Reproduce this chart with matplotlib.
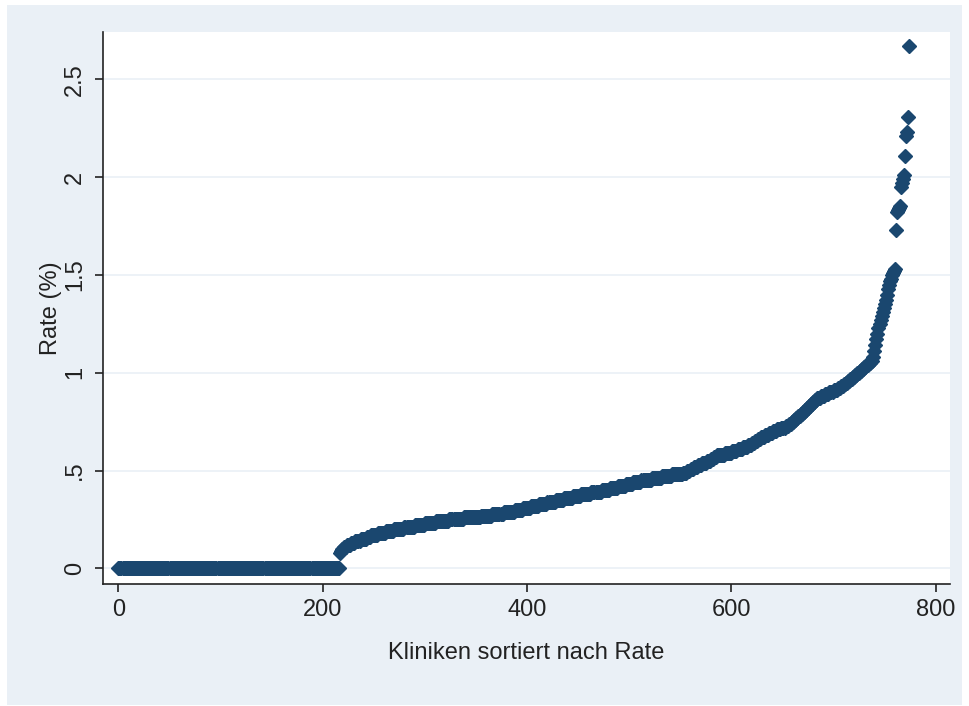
import numpy as np
import matplotlib
matplotlib.use("Agg")
import matplotlib.pyplot as plt
from matplotlib.patches import Rectangle

plt.rcParams['font.family'] = ['Liberation Sans', 'DejaVu Sans']

# Raten (%) je Klinik, sortiert: Niveau + Anzahl Kliniken auf diesem Niveau
rate_levels = [0.00, 0.08, 0.09, 0.10, 0.11, 0.12, 0.13, 0.14, 0.15, 0.16,
               0.17, 0.18, 0.19, 0.20, 0.21, 0.22, 0.23, 0.24, 0.25, 0.26,
               0.27, 0.28, 0.29, 0.30, 0.31, 0.32, 0.33, 0.34, 0.35, 0.36,
               0.37, 0.38, 0.39, 0.40, 0.41, 0.42, 0.43, 0.44, 0.45, 0.46,
               0.47, 0.48, 0.49, 0.50, 0.51, 0.52, 0.53, 0.54, 0.55, 0.56,
               0.57, 0.58, 0.59, 0.60, 0.61, 0.62, 0.63, 0.64, 0.65, 0.66,
               0.67, 0.68, 0.69, 0.70, 0.71, 0.72, 0.73, 0.74, 0.75, 0.76,
               0.77, 0.78, 0.79, 0.80, 0.81, 0.82, 0.83, 0.84, 0.85, 0.86,
               0.87, 0.88, 0.89, 0.90, 0.91, 0.92, 0.93, 0.94, 0.95, 0.96,
               0.97, 0.98, 0.99, 1.00, 1.01, 1.02, 1.03, 1.04, 1.05, 1.06]
rate_counts = [217, 1, 1, 2, 3, 4, 4, 5, 6, 4,
               7, 8, 8, 10, 10, 10, 11, 13, 14, 17,
               11, 11, 11, 8, 8, 8, 8, 8, 8, 9,
               8, 10, 10, 8, 8, 8, 7, 8, 10, 10,
               10, 11, 4, 3, 3, 4, 4, 5, 4, 3,
               3, 8, 7, 5, 5, 5, 4, 3, 3, 3,
               4, 4, 4, 4, 4, 4, 3, 3, 2, 2,
               2, 3, 2, 2, 2, 2, 2, 2, 2, 2,
               4, 4, 4, 4, 4, 3, 3, 2, 2, 2,
               3, 2, 2, 3, 2, 2, 2, 3, 2, 2]
rate_tail = [1.08, 1.11, 1.14, 1.17, 1.20, 1.23, 1.25, 1.27, 1.29, 1.31,
             1.33, 1.35, 1.37, 1.40, 1.43, 1.45, 1.47, 1.48, 1.50, 1.51,
             1.52, 1.53, 1.73, 1.82, 1.83, 1.84, 1.85, 1.95, 1.97, 1.99,
             2.01, 2.11, 2.21, 2.23, 2.31, 2.67]

x_ticks = [0, 200, 400, 600, 800]
y_ticks = [0, 0.5, 1, 1.5, 2, 2.5]
y_ticklabels = ["0", ".5", "1", "1.5", "2", "2.5"]

rate = np.concatenate([np.repeat(rate_levels, rate_counts), rate_tail])
rank = np.arange(len(rate))

navy = '#1a476f'
bg = '#eaf0f6'

fig = plt.figure(figsize=(9.69, 7.06), dpi=100, facecolor='white')
fig.patches.append(Rectangle((7 / 969, 1 / 706), 955 / 969, 700 / 706,
                             transform=fig.transFigure, facecolor=bg,
                             edgecolor='none', zorder=-10))
ax = fig.add_axes([103 / 969, 1 - 584 / 706, 847 / 969, 552 / 706])
ax.set_facecolor('white')

ax.plot(rank, rate, linestyle='none', marker='D', markersize=6.8,
        color=navy, markeredgecolor=navy, zorder=3)

ax.set_xlim(-15.1, 814)
ax.set_ylim(-0.080, 2.742)
ax.set_xticks(x_ticks)
ax.set_yticks(y_ticks)
ax.set_yticklabels(y_ticklabels, rotation=90, va='center')
ax.grid(axis='y', color=bg, linewidth=1.2)
ax.set_axisbelow(True)

for s in ['top', 'right']:
    ax.spines[s].set_visible(False)
for s in ['left', 'bottom']:
    ax.spines[s].set_color('#222222')
    ax.spines[s].set_linewidth(1.2)

ax.tick_params(axis='both', direction='out', length=6, width=1.2,
               color='#222222', labelsize=17, labelcolor='#222222')
ax.tick_params(axis='y', pad=6)
ax.tick_params(axis='x', pad=5)

ax.set_xlabel('Kliniken sortiert nach Rate', fontsize=17, color='#222222', labelpad=15)
ax.set_ylabel('Rate (%)', fontsize=17, color='#222222', labelpad=2)

fig.savefig('out.png', dpi=100, facecolor='white')
